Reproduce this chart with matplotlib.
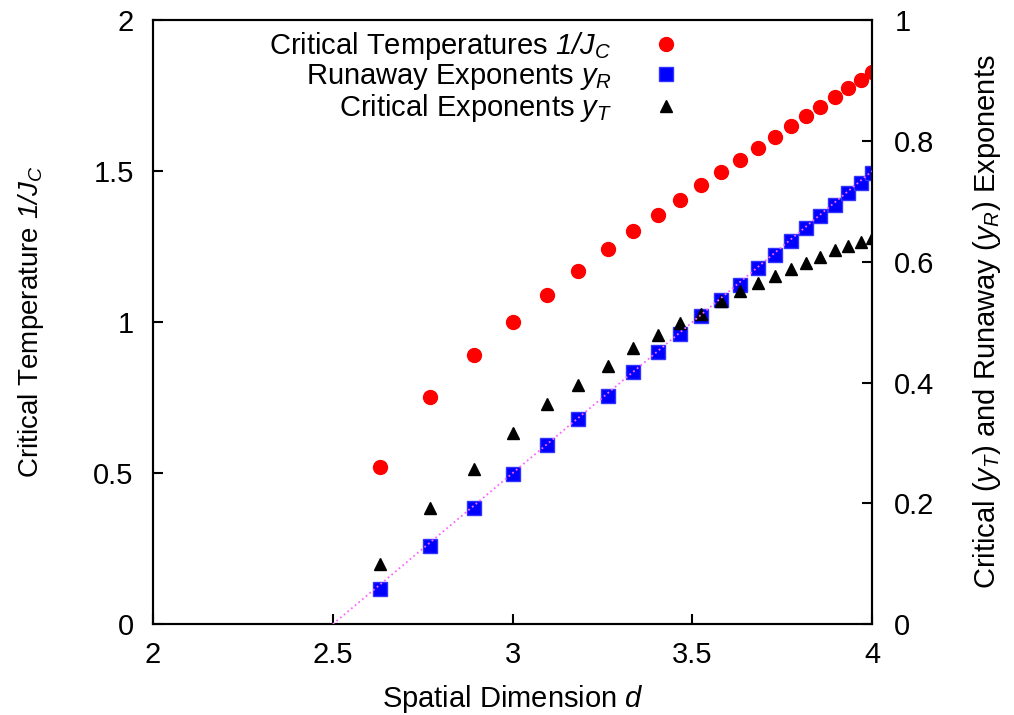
import matplotlib
matplotlib.use('Agg')
import matplotlib.pyplot as plt

plt.rcParams['font.family'] = ['Liberation Sans', 'DejaVu Sans']
# the only math parts are italic symbols, so draw all math in the italic face
plt.rcParams['mathtext.fontset'] = 'custom'
plt.rcParams['mathtext.rm'] = 'Liberation Sans:italic'
plt.rcParams['mathtext.it'] = 'Liberation Sans:italic'

# spatial dimension values
d = [2.630, 2.770, 2.892, 3.000, 3.095, 3.181, 3.265, 3.334, 3.404, 3.465, 3.524,
     3.579, 3.632, 3.682, 3.730, 3.774, 3.816, 3.855, 3.897, 3.933, 3.969, 4.000]

# critical temperature 1/J_C (left axis)
crit_temp = [0.521, 0.751, 0.891, 1.000, 1.089, 1.169, 1.242, 1.301, 1.354, 1.404, 1.454,
             1.497, 1.536, 1.576, 1.613, 1.649, 1.682, 1.712, 1.745, 1.775, 1.801, 1.828]

# runaway exponents y_R (right axis)
y_runaway = [0.058, 0.130, 0.192, 0.248, 0.296, 0.339, 0.378, 0.417, 0.450, 0.481, 0.510,
             0.536, 0.562, 0.589, 0.611, 0.635, 0.656, 0.676, 0.694, 0.713, 0.731, 0.747]

# critical exponents y_T (right axis)
y_crit = [0.100, 0.192, 0.257, 0.317, 0.365, 0.396, 0.427, 0.457, 0.479, 0.499, 0.514,
          0.535, 0.552, 0.564, 0.576, 0.588, 0.598, 0.608, 0.619, 0.626, 0.633, 0.640]

# dotted reference line
line_d = [2.5, 4.0]
line_y = [0.0, 0.75]

fs = 21

fig = plt.figure(figsize=(10.14, 7.15), dpi=100)
ax = fig.add_axes([0.151, 0.127, 0.709, 0.845])
ax2 = ax.twinx()

ax.set_xlim(2, 4)
ax.set_ylim(0, 2)
ax2.set_ylim(0, 1)

h1, = ax.plot(d, crit_temp, 'o', color='#ff0000', markersize=10, linestyle='none',
              label=r'Critical Temperatures $1/J_C$')
h2, = ax2.plot(d, y_runaway, 's', color='#0000ff', markeredgecolor='#3333ff',
               markersize=10, linestyle='none',
               label=r'Runaway Exponents $y_R$', zorder=2)
h3, = ax2.plot(d, y_crit, '^', color='black', markersize=8.5, linestyle='none',
               label=r'Critical Exponents $y_T$', zorder=3)
ax2.plot(line_d, line_y, linestyle=':', color='#ff66ff', linewidth=1.3, zorder=4)

ax.set_xticks([2, 2.5, 3, 3.5, 4])
ax.set_xticklabels(['2', '2.5', '3', '3.5', '4'])
ax.set_yticks([0, 0.5, 1, 1.5, 2])
ax.set_yticklabels(['0', '0.5', '1', '1.5', '2'])
ax2.set_yticks([0, 0.2, 0.4, 0.6, 0.8, 1])
ax2.set_yticklabels(['0', '0.2', '0.4', '0.6', '0.8', '1'])

ax.tick_params(axis='both', direction='in', length=7, width=1.5, labelsize=fs)
ax.tick_params(axis='x', pad=12)
ax.tick_params(axis='y', pad=14)
ax2.tick_params(axis='y', direction='in', length=7, width=1.5, labelsize=fs, pad=16)

for a in (ax, ax2):
    for s in a.spines.values():
        s.set_linewidth(1.5)

ax.set_xlabel(r'Spatial Dimension $d$', fontsize=fs, labelpad=10)
ax.set_ylabel(r'Critical Temperature $1/J_C$', fontsize=20, labelpad=34)
ax2.set_ylabel(r'Critical ($y_T$) and Runaway ($y_R$) Exponents',
               fontsize=fs, labelpad=26)

leg = ax.legend(handles=[h1, h2, h3], loc='upper right', bbox_to_anchor=(0.733, 0.983),
                frameon=False, markerfirst=False, fontsize=fs, handlelength=1.0,
                handletextpad=1.35, labelspacing=0.0, borderaxespad=0.0, borderpad=0.0)
for t in leg.get_texts():
    t.set_ha('right')
    t.set_position((0, 0))
leg._legend_box.align = 'right'

fig.savefig('out.png', dpi=100)
